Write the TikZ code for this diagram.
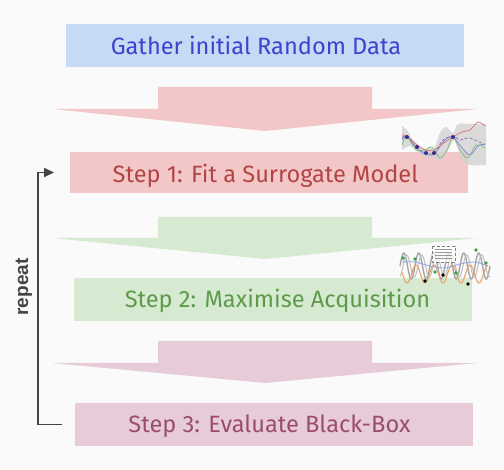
\documentclass[tikz,border=0pt]{standalone}
\usepackage{fontspec}
\setmainfont{Fira Sans}
\newfontfamily\repfont{Liberation Sans}
\usetikzlibrary{arrows.meta}
\definecolor{bg}{HTML}{FAFAFA}
\definecolor{bluebox}{HTML}{C6D9F5}
\definecolor{bluetext}{HTML}{3F42CC}
\definecolor{pinkbox}{HTML}{F3C7C7}
\definecolor{pinktext}{HTML}{B34444}
\definecolor{greenbox}{HTML}{D6E9D1}
\definecolor{greentext}{HTML}{5E9A4B}
\definecolor{mauvebox}{HTML}{E8CBD8}
\definecolor{mauvetext}{HTML}{9A4D6E}
\definecolor{repcol}{HTML}{444444}
\definecolor{gpblue}{HTML}{7A8CE0}
\definecolor{gppurple}{HTML}{8A5AB0}
\definecolor{gpred}{HTML}{E07070}
\definecolor{gpgreen}{HTML}{7DB87A}
\definecolor{gpdot}{HTML}{3A2A8A}
\definecolor{gporange}{HTML}{E8A060}
\definecolor{gpgreendot}{HTML}{3FA04A}
\tikzset{
  stepbox/.style={inner sep=0pt, outer sep=0pt},
  steptext/.style={anchor=base, inner sep=0pt, font=\fontsize{23.6}{28}\selectfont},
  rep/.style={draw=repcol, line width=1.8pt, -{Triangle[length=10pt,width=9pt]}},
}
\begin{document}
\begin{tikzpicture}[x=1pt,y=-1pt]
\fill[bg] (0,0) rectangle (504,470);
\useasboundingbox (0,0) rectangle (504,470);

% boxes
\node[stepbox, fill=bluebox, minimum width=398pt, minimum height=43pt] (b0) at (265,45.5) {};
\node[stepbox, fill=pinkbox, minimum width=398pt, minimum height=41pt] (b1) at (269,172.5) {};
\node[stepbox, fill=greenbox, minimum width=398pt, minimum height=43pt] (b2) at (273,299.5) {};
\node[stepbox, fill=mauvebox, minimum width=398pt, minimum height=43pt] (b3) at (274,424.5) {};

% texts
\node[steptext, text=bluetext] (t0) at (256,55) {Gather initial Random Data};
\node[steptext, text=pinktext] (t1) at (265.5,183) {Step 1: Fit a Surrogate Model};
\node[steptext, text=greentext] (t2) at (277.5,308) {Step 2: Maximise Acquisition};
\node[steptext, text=mauvetext] (t3) at (269.5,433) {Step 3: Evaluate Black-Box};

% fat arrows
\fill[pinkbox] (158,87) -- (372,87) -- (372,109) -- (477,109) -- (265,131) -- (53,109) -- (158,109) -- cycle;
\fill[greenbox] (158,217) -- (372,217) -- (372,238) -- (477,238) -- (265,259) -- (52,238) -- (158,238) -- cycle;
\fill[mauvebox] (158,341) -- (372,341) -- (372,363) -- (477,363) -- (265,383) -- (52,363) -- (158,363) -- cycle;

% repeat arrow
\draw[rep] ([xshift=-13pt]b3.west) -- ++(-24,0) |- ([xshift=-16pt]b1.west);
\node[rotate=90, font=\repfont\bfseries\fontsize{19}{22}\selectfont, text=repcol] (rl) at (24,287) {repeat};

% icon 1: GP surrogate
\fill[gray!35, opacity=0.8] plot[smooth] coordinates {(402,126) (407,130) (412,139) (417,144) (425,149) (430,147) (434,149) (440,133) (446,127) (453,133) (458,124) (470,124) (486,124)}
  -- plot[smooth] coordinates {(486,165) (470,165) (462,160) (456,143) (453,141) (447,152) (440,160) (434,158) (425,158) (417,151) (410,146) (402,150)} -- cycle;
\draw[gpblue, line width=0.8pt] plot[smooth] coordinates {(402,140) (407,136) (416,147) (425,154) (434,154) (445,140) (453,137) (462,148) (470,155) (478,146) (485,144)};
\draw[gppurple, line width=0.6pt, densely dashed] plot[smooth] coordinates {(402,138) (407,136) (416,147) (425,153) (434,153) (443,140) (453,136) (460,140) (470,138) (485,145)};
\draw[gpred, line width=0.7pt] plot[smooth] coordinates {(402,135) (407,136) (416,144) (425,150) (434,150) (445,142) (453,137) (462,132) (470,130) (478,122) (485,126)};
\draw[gpgreen, line width=0.7pt] plot[smooth] coordinates {(402,145) (407,137) (416,150) (425,150) (432,147) (440,158) (447,150) (453,137) (460,150) (468,158) (476,145) (485,148)};
\foreach \p in {(407,137),(417,147),(426,153),(434,153),(453,137)} \fill[gpdot] \p circle (2pt);

% icon 2: acquisition
\draw[gray!70, line width=1.4pt] plot[domain=400:490, samples=140] (\x, {266 - 13*sin((\x-400)*24)});
\draw[gray!50, line width=1pt] plot[domain=400:490, samples=140] (\x, {266 - 11*sin((\x-403)*24)});
\draw[gporange, line width=1pt] plot[domain=402:488, samples=120] (\x, {274 + 9*sin((\x-420.5)*20)});
\draw[gpblue!80, line width=0.8pt] plot[smooth] coordinates {(402,262) (415,262) (430,266) (445,268) (460,264) (475,262) (488,266)};
\draw[gray, densely dashed, line width=0.5pt, fill=white, fill opacity=0.7] (432,246) rectangle (455,262);
\foreach \yy in {249,252,255,258} \draw[gray!80, line width=0.4pt] (435,\yy) -- (452,\yy);
\foreach \p in {(403,258),(415,259),(435,272),(456,273),(476,250),(486,263)} \fill[gpgreendot] \p circle (1.8pt);
\foreach \p in {(425,281),(443,275),(468,284)} \fill[black] \p circle (1.8pt);
\end{tikzpicture}
\end{document}
